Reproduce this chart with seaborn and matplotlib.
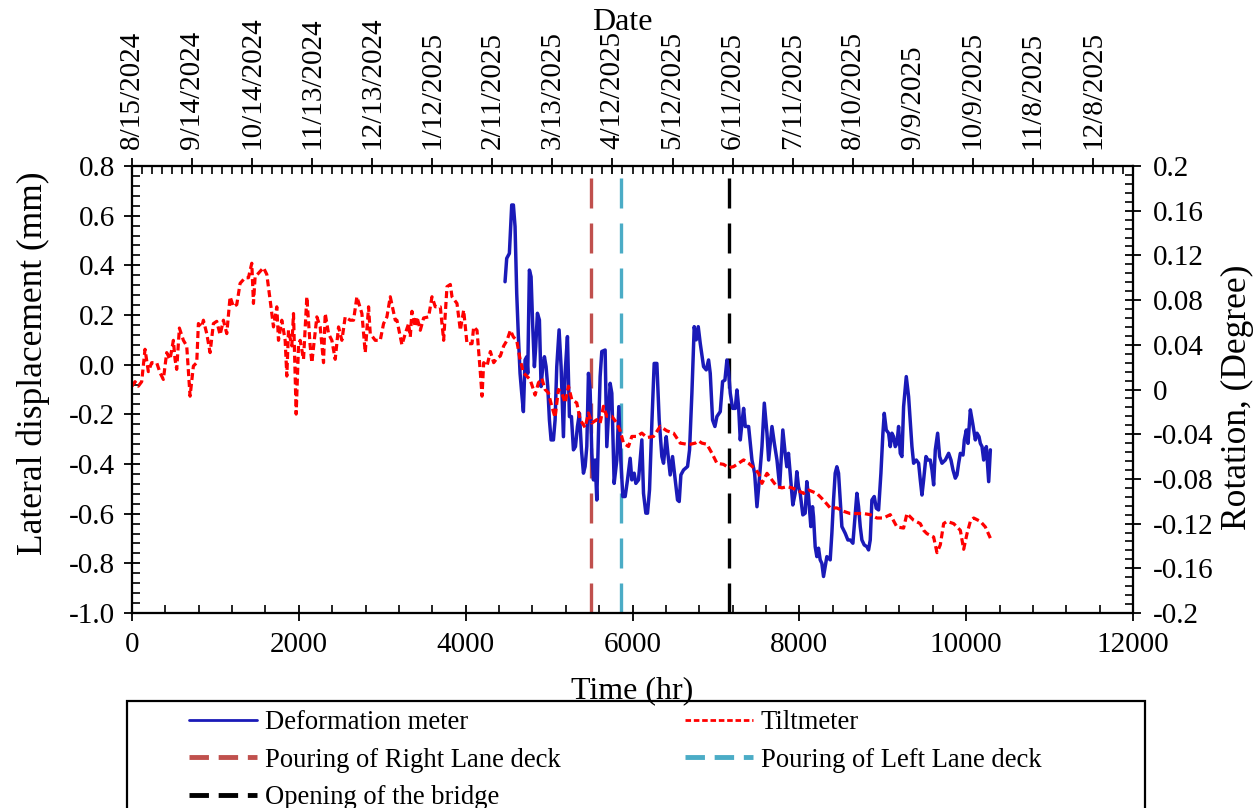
import matplotlib
matplotlib.use("Agg")
import matplotlib.pyplot as plt
import seaborn as sns
import numpy as np
import pandas as pd
from matplotlib.ticker import MultipleLocator, FixedLocator, FuncFormatter
from matplotlib.lines import Line2D
from matplotlib.patches import Rectangle

# ---------------- data ----------------
defo_hr = [4472, 4492, 4524, 4552, 4572, 4592, 4612, 4632, 4652, 4672, 4692, 4712, 4732, 4744, 4764, 4784,
           4804, 4824, 4840, 4860, 4884, 4904, 4924, 4944, 4964, 4984, 5004, 5024, 5052, 5072, 5092, 5120,
           5144, 5172, 5192, 5220, 5244, 5268, 5292, 5316, 5340, 5364, 5388, 5412, 5432, 5452, 5472, 5492,
           5512, 5532, 5552, 5572, 5592, 5612, 5632, 5672, 5692, 5732, 5752, 5780, 5812, 5836, 5860, 5884,
           5912, 5940, 5972, 5992, 6020, 6040, 6072, 6112, 6132, 6160, 6180, 6204, 6232, 6260, 6292, 6320,
           6352, 6372, 6404, 6424, 6452, 6480, 6512, 6540, 6560, 6580, 6612, 6660, 6684, 6712, 6740, 6764,
           6788, 6812, 6852, 6884, 6912, 6932, 6960, 6988, 7012, 7052, 7080, 7108, 7132, 7152, 7172, 7200,
           7232, 7252, 7272, 7292, 7316, 7332, 7352, 7392, 7432, 7464, 7492, 7520, 7552, 7580, 7612, 7632,
           7672, 7700, 7732, 7764, 7802, 7830, 7850, 7870, 7890, 7922, 7950, 7970, 7990, 8010, 8042, 8070,
           8090, 8110, 8138, 8158, 8170, 8190, 8210, 8230, 8250, 8270, 8290, 8310, 8330, 8370, 8390, 8410,
           8430, 8450, 8470, 8490, 8510, 8550, 8582, 8610, 8642, 8658, 8690, 8710, 8730, 8750, 8778, 8810,
           8830, 8850, 8870, 8898, 8922, 8950, 8978, 9002, 9018, 9042, 9070, 9090, 9110, 9130, 9150, 9170,
           9190, 9210, 9230, 9250, 9282, 9310, 9350, 9370, 9402, 9430, 9450, 9470, 9490, 9518, 9542, 9570,
           9590, 9610, 9630, 9658, 9682, 9710, 9750, 9790, 9818, 9842, 9870, 9890, 9910, 9930, 9962, 9978,
           10002, 10022, 10050, 10078, 10110, 10130, 10154, 10170, 10190, 10210, 10218, 10242, 10270, 10290]
defo_mm = [0.334, 0.428, 0.448, 0.643, 0.643, 0.556, 0.287, 0.113, -0.035, -0.115, -0.189, 0.019, 0.032, -0.035, 0.381, 0.354,
           0.153, -0.008, 0.073, 0.207, 0.180, -0.088, -0.008, 0.032, -0.008, -0.088, -0.223, -0.303, -0.303, -0.223, -0.008, 0.140,
           -0.008, -0.290, -0.035, 0.113, -0.209, -0.209, -0.343, -0.330, -0.249, -0.196, -0.343, -0.437, -0.410, -0.330, -0.035, -0.102,
           -0.357, -0.464, -0.384, -0.545, -0.276, -0.048, 0.053, 0.059, -0.330, -0.075, -0.115, -0.478, -0.384, -0.169, -0.384, -0.531,
           -0.531, -0.464, -0.377, -0.464, -0.437, -0.478, -0.464, -0.303, -0.518, -0.598, -0.598, -0.504, -0.236, 0.005, 0.005, -0.223,
           -0.370, -0.397, -0.290, -0.357, -0.444, -0.370, -0.464, -0.545, -0.551, -0.444, -0.424, -0.410, -0.343, -0.115, 0.153, 0.100,
           0.153, 0.086, -0.008, -0.021, 0.019, -0.035, -0.223, -0.249, -0.209, -0.189, -0.068, -0.062, 0.019, -0.028, -0.115, -0.176,
           -0.176, -0.102, -0.169, -0.303, -0.223, -0.176, -0.249, -0.249, -0.384, -0.437, -0.572, -0.464, -0.330, -0.155, -0.276, -0.384,
           -0.249, -0.316, -0.384, -0.491, -0.263, -0.357, -0.411, -0.357, -0.437, -0.565, -0.518, -0.431, -0.491, -0.518, -0.605, -0.598,
           -0.471, -0.531, -0.652, -0.572, -0.612, -0.733, -0.773, -0.739, -0.786, -0.800, -0.853, -0.813, -0.773, -0.786, -0.679, -0.545,
           -0.437, -0.411, -0.437, -0.545, -0.652, -0.679, -0.706, -0.706, -0.719, -0.652, -0.518, -0.572, -0.652, -0.706, -0.726, -0.733,
           -0.746, -0.706, -0.545, -0.531, -0.578, -0.585, -0.437, -0.276, -0.196, -0.263, -0.276, -0.330, -0.276, -0.290, -0.330, -0.317,
           -0.249, -0.357, -0.370, -0.169, -0.048, -0.129, -0.330, -0.397, -0.384, -0.397, -0.464, -0.525, -0.464, -0.370, -0.384, -0.384,
           -0.424, -0.484, -0.343, -0.276, -0.370, -0.397, -0.384, -0.357, -0.384, -0.424, -0.457, -0.444, -0.397, -0.357, -0.364, -0.303,
           -0.263, -0.317, -0.182, -0.236, -0.303, -0.276, -0.290, -0.317, -0.330, -0.384, -0.357, -0.330, -0.471, -0.343]

tilt_hr = [0, 36, 76, 116, 156, 196, 236, 296, 336, 376, 416, 456, 496, 516, 536, 568, 616, 656, 696, 736,
           776, 796, 836, 856, 896, 936, 976, 1016, 1056, 1096, 1136, 1176, 1216, 1256, 1296, 1356, 1396, 1436,
           1456, 1476, 1516, 1576, 1616, 1656, 1696, 1736, 1756, 1796, 1836, 1856, 1876, 1916, 1936, 1968, 1996,
           2016, 2056, 2096, 2136, 2156, 2216, 2256, 2296, 2316, 2356, 2396, 2436, 2476, 2516, 2556, 2616, 2656,
           2696, 2756, 2776, 2796, 2836, 2856, 2916, 2976, 3016, 3056, 3096, 3156, 3176, 3236, 3276, 3316, 3336,
           3356, 3396, 3416, 3456, 3496, 3556, 3596, 3636, 3696, 3736, 3776, 3816, 3836, 3896, 3936, 3976, 4016,
           4076, 4096, 4136, 4176, 4196, 4216, 4256, 4296, 4336, 4376, 4416, 4456, 4496, 4536,
           4572, 4612, 4652, 4692, 4732, 4772, 4812, 4832, 4872, 4912, 4952, 4992, 5032, 5072, 5112, 5152, 5192,
           5232, 5272, 5332, 5372, 5432, 5472, 5512, 5572, 5612, 5652, 5692, 5752, 5812, 5852, 5892, 5952, 5992,
           6052, 6112, 6172, 6252, 6332, 6412, 6492, 6572, 6652, 6692, 6752, 6792, 6832, 6892, 6952, 7012, 7092,
           7152, 7212, 7272, 7332, 7392, 7452, 7512, 7552, 7612, 7672, 7732, 7792, 7852, 7912, 7972, 8052, 8112,
           8210, 8290, 8370, 8450, 8530, 8610, 8690, 8770, 8850, 8930, 9010, 9090, 9170, 9250, 9290, 9370, 9450,
           9490, 9530, 9610, 9650, 9690, 9730, 9770, 9850, 9930, 9970, 10010, 10050, 10090, 10170, 10230, 10290]
tilt_deg = [0.003, 0.007, 0.003, 0.007, 0.036, 0.016, 0.024, 0.024, 0.015, 0.009, 0.033, 0.027, 0.044, 0.027, 0.018, 0.055, 0.044, 0.039, -0.006, 0.021,
            0.024, 0.059, 0.056, 0.062, 0.050, 0.033, 0.059, 0.061, 0.049, 0.062, 0.050, 0.083, 0.074, 0.076, 0.095, 0.100, 0.100, 0.113,
            0.077, 0.101, 0.104, 0.109, 0.103, 0.080, 0.056, 0.074, 0.044, 0.062, 0.044, 0.012, 0.053, 0.039, 0.068, -0.022, 0.039,
            0.044, 0.027, 0.083, 0.039, 0.024, 0.065, 0.056, 0.024, 0.068, 0.050, 0.044, 0.027, 0.056, 0.044, 0.065, 0.062, 0.062,
            0.083, 0.068, 0.050, 0.033, 0.074, 0.050, 0.044, 0.044, 0.059, 0.065, 0.083, 0.062, 0.062, 0.040, 0.050, 0.059, 0.047,
            0.070, 0.056, 0.065, 0.053, 0.064, 0.065, 0.083, 0.074, 0.074, 0.044, 0.092, 0.094, 0.083, 0.077, 0.053, 0.071, 0.041,
            0.041, 0.056, 0.053, 0.015, -0.006, 0.024, 0.021, 0.034, 0.024, 0.028, 0.030, 0.039, 0.044, 0.053,
            0.047, 0.044, 0.027, 0.015, 0.012, 0.009, 0.000, -0.005, 0.006, 0.010, 0.000, -0.003, -0.015, -0.025, 0.000, -0.003, -0.012,
            0.003, -0.009, -0.012, -0.027, -0.034, -0.021, -0.030, -0.027, -0.030, -0.015, -0.024, -0.024, -0.030, -0.037, -0.048, -0.051, -0.042,
            -0.042, -0.039, -0.043, -0.042, -0.033, -0.037, -0.039, -0.048, -0.049, -0.049, -0.048, -0.046, -0.048, -0.049, -0.057, -0.066, -0.067,
            -0.070, -0.069, -0.066, -0.063, -0.066, -0.070, -0.075, -0.084, -0.075, -0.081, -0.087, -0.088, -0.087, -0.088, -0.090, -0.093, -0.090,
            -0.093, -0.099, -0.106, -0.106, -0.109, -0.111, -0.111, -0.111, -0.112, -0.115, -0.115, -0.112, -0.123, -0.124, -0.111, -0.117, -0.120,
            -0.126, -0.129, -0.132, -0.146, -0.139, -0.120, -0.118, -0.120, -0.126, -0.143, -0.129, -0.118, -0.115, -0.118, -0.123, -0.133]

event_hr = [5504, 5863, 7158]
event_labels = ["Pouring of Right Lane deck", "Pouring of Left Lane deck", "Opening of the bridge"]
event_colors = ["#c0504d", "#4bacc6", "#000000"]

date_labels = ["8/15/2024", "9/14/2024", "10/14/2024", "11/13/2024", "12/13/2024", "1/12/2025",
               "2/11/2025", "3/13/2025", "4/12/2025", "5/12/2025", "6/11/2025", "7/11/2025",
               "8/10/2025", "9/9/2025", "10/9/2025", "11/8/2025", "12/8/2025"]
date_step_hr = 720

# ---------------- style ----------------
sns.set_style("ticks")
plt.rcParams["font.family"] = ["Liberation Serif", "DejaVu Serif"]
plt.rcParams["axes.linewidth"] = 1.5
for k in ("text.color", "axes.labelcolor", "xtick.color", "ytick.color", "axes.edgecolor"):
    plt.rcParams[k] = "black"
TICK = 21
LAB = 23
VLAB = 25.5

fig = plt.figure(figsize=(12.58, 8.08), dpi=100)
ax = fig.add_axes([132/1258, 1-613/808, (1133-132)/1258, (613-166)/808])
ax2 = ax.twinx()
ax3 = ax.twiny()

blue = "#1a1ab8"
red = "#ff0000"

defo = pd.DataFrame({"hr": defo_hr, "mm": defo_mm})
tilt = pd.DataFrame({"hr": tilt_hr, "deg": tilt_deg})

for h, c in zip(event_hr, event_colors):
    ax.axvline(h, color=c, lw=2.4, linestyle=(0, (9, 4.5)), zorder=1)

sns.lineplot(data=defo, x="hr", y="mm", ax=ax, color=blue, linewidth=2.5,
             estimator=None, sort=False, zorder=3)
sns.lineplot(data=tilt, x="hr", y="deg", ax=ax2, color=red, linewidth=2.3,
             estimator=None, sort=False, linestyle=(0, (2.2, 1.2)), zorder=3)

# axes ranges and ticks
ax.set_xlim(0, 12000)
ax.set_ylim(-1.0, 0.8)
ax2.set_ylim(-0.2, 0.2)
ax3.set_xlim(0, 12000)

ax.xaxis.set_major_locator(MultipleLocator(2000))
ax.xaxis.set_minor_locator(MultipleLocator(400))
ax.yaxis.set_major_locator(MultipleLocator(0.2))
ax.yaxis.set_minor_locator(MultipleLocator(0.04))
ax.yaxis.set_major_formatter(FuncFormatter(lambda v, p: f"{v:.1f}"))
ax.xaxis.set_major_formatter(FuncFormatter(lambda v, p: f"{v:.0f}"))

ax2.yaxis.set_major_locator(MultipleLocator(0.04))
ax2.yaxis.set_minor_locator(MultipleLocator(0.008))
ax2.yaxis.set_major_formatter(FuncFormatter(lambda v, p: f"{round(v, 3):g}" if abs(v) > 1e-9 else "0"))

ax3.xaxis.set_major_locator(FixedLocator([i * date_step_hr for i in range(len(date_labels))]))
ax3.xaxis.set_minor_locator(MultipleLocator(120))
ax3.set_xticklabels(date_labels, rotation=90)

for a in (ax, ax2, ax3):
    a.tick_params(which="major", direction="inout", length=12, width=1.3, labelsize=TICK, colors="black")
    a.tick_params(which="minor", direction="in", length=6, width=1.2, colors="black")
    for s in a.spines.values():
        s.set_color("black")
        s.set_linewidth(1.5)

ax.tick_params(axis="x", which="both", top=False)
ax.tick_params(axis="y", which="both", right=False)
ax2.tick_params(axis="y", which="both", left=False, right=True)
ax3.tick_params(axis="x", which="both", bottom=False, top=True)
ax.tick_params(axis="x", pad=8)
ax.tick_params(axis="y", pad=6)
ax2.tick_params(axis="y", pad=8)
ax3.tick_params(axis="x", pad=6)

ax.set_xlabel("Time (hr)", fontsize=LAB, labelpad=13)
ax.set_ylabel("Lateral displacement (mm)", fontsize=VLAB)
ax.yaxis.set_label_coords((50-132)/1001, (613-363)/447)
ax2.set_ylabel("Rotation, (Degree)", fontsize=VLAB)
ax2.yaxis.set_label_coords((1221-132)/1001, (613-397)/447)
ax3.set_xlabel("Date", fontsize=LAB)
ax3.xaxis.set_label_coords((622-132)/1001, (613-30)/447)

# ---------------- legend ----------------
handles = [
    Line2D([], [], color=blue, lw=2.0),
    Line2D([], [], color=red, lw=2.0, linestyle=(0, (2, 1))),
    Line2D([], [], color=event_colors[0], lw=3.5, linestyle=(0, (4, 2))),
    Line2D([], [], color=event_colors[1], lw=3.5, linestyle=(0, (4, 2))),
    Line2D([], [], color=event_colors[2], lw=3.5, linestyle=(0, (4, 2))),
]
labels = ["Deformation meter", "Tiltmeter"] + event_labels
order = [0, 2, 4, 1, 3]
fig.legend([handles[i] for i in order], [labels[i] for i in order], ncol=2,
           loc="upper left", bbox_to_anchor=(189/1258, 1-710/808), frameon=False,
           fontsize=19.2, handlelength=2.55, handletextpad=0.3, columnspacing=4.65,
           labelspacing=0.47, borderpad=0, borderaxespad=0)
fig.add_artist(Rectangle((127/1258, -0.1), (1145-127)/1258, 0.1 + (1-701/808),
                         transform=fig.transFigure, fill=False, edgecolor="black", lw=1.6))

fig.savefig("out.png", dpi=100)
